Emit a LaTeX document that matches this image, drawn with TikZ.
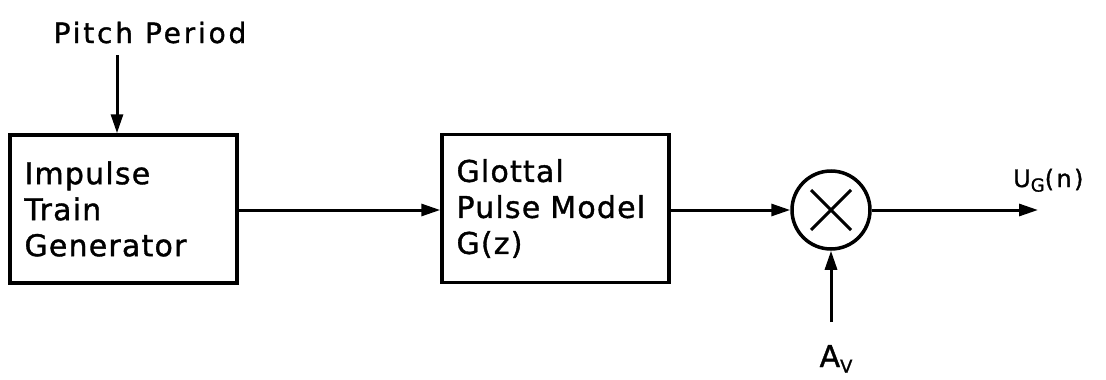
\documentclass[tikz,border=0pt]{standalone}
\usepackage{fontspec}
\newfontfamily\lab[LetterSpace=4,FakeBold=1.2]{DejaVu Sans}
\newfontfamily\labwide[LetterSpace=10,FakeBold=1.2]{DejaVu Sans}
\usetikzlibrary{arrows.meta}
\tikzset{
  x=1pt, y=-1pt,
  blk/.style={draw, line width=3.5pt, minimum width=227pt, minimum height=148pt,
    inner xsep=14pt, align=left, text width=198pt, font=\lab\fontsize{30}{36}\selectfont},
  mult/.style={draw, circle, line width=3.5pt, minimum size=78pt, inner sep=0pt},
  sig/.style={line width=3pt, -{Triangle[length=19pt,width=12pt]}},
  lbl/.style={font=\lab\fontsize{30}{36}\selectfont, inner sep=0pt},
}
\newcommand{\smallsub}[1]{\raisebox{-0.35ex}{\fontsize{18}{18}\selectfont #1}}
\begin{document}
\begin{tikzpicture}
\useasboundingbox (0,0) rectangle (1106,380);
\node[blk] (b1) at (123.5,209) {Impulse\\Train\\Generator};
\node[blk] (b2) at (555.5,208.5) {Glottal\\Pulse Model\\G(z)};
\node[mult] (m) at (831,210) {};
\path (m.center) ++(-20,-20) coordinate (x1) ++(40,40) coordinate (x2);
\path (m.center) ++(20,-20) coordinate (x3) ++(-40,40) coordinate (x4);
\draw[line width=3pt] (x1) -- (x2) (x3) -- (x4);
\node[lbl, anchor=base, font=\labwide\fontsize{28}{32}\selectfont] (pp) at (150,43) {Pitch\hspace{12pt}Period};
\coordinate (ppend) at (117,55);
\draw[sig] (ppend) -- (b1.north -| ppend);
\draw[sig] (b1.east |- 0,210) -- (b2.west |- 0,210);
\draw[sig] (b2.east |- m.west) -- (m.west);
\coordinate (out) at (1038,210);
\draw[sig] (m.east) -- (out);
\node[lbl, anchor=base west, font=\labwide\fontsize{24}{28}\selectfont] (ug) at (1013,187) {U\smallsub{G}(n)};
\coordinate (av) at (831,322);
\draw[sig] (av) -- (m.south);
\node[lbl, anchor=base] (avl) at (836,367) {A\smallsub{V}};
\end{tikzpicture}
\end{document}
